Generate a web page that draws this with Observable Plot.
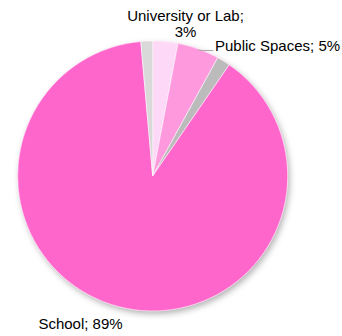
<!DOCTYPE html>
<html>
<head>
<meta charset="utf-8">
<script src="https://cdn.jsdelivr.net/npm/d3@7"></script>
<script src="https://cdn.jsdelivr.net/npm/@observablehq/plot@0.6"></script>
<style>
  html, body { margin: 0; padding: 0; background: #fff; }
  #chart svg { display: block; }
</style>
</head>
<body>
<div id="chart"></div>
<script>
// Data (clockwise from 12 o'clock)
const categories = ["University or Lab", "Public Spaces", "Other A", "School", "Other B"];
const values = [3, 5, 1.6, 89, 1.4];
const labels = ["University or Lab;\n3%", "Public Spaces; 5%", "", "School; 89%", ""];
const colors = ["#FDD8F7", "#FE99DE", "#BBBBBB", "#FF66CC", "#D9D9D9"];

const W = 342, H = 336;
const center = [152.7, 176];
const radius = 135;

const slices = categories.map((c, i) => ({category: c, value: values[i], label: labels[i], color: colors[i]}));
const pie = d3.pie().sort(null).value(d => d.value)(slices);

function pieMark(index, scales, values, dims, context) {
  const cx = scales.x(center[0]), cy = scales.y(center[1]);
  const r = Math.abs(scales.y(center[1] + radius) - cy);
  const g = d3.create("svg:g");
  const defs = g.append("defs");
  const f = defs.append("filter").attr("id", "pieShadow").attr("x", "-10%").attr("y", "-10%").attr("width", "130%").attr("height", "130%");
  f.append("feDropShadow").attr("dx", 2).attr("dy", 3).attr("stdDeviation", 3).attr("flood-color", "#000").attr("flood-opacity", 0.3);
  const arc = d3.arc().innerRadius(0).outerRadius(r);
  const inner = g.append("g").attr("transform", `translate(${cx},${cy})`);
  inner.append("circle").attr("r", r).attr("fill", "#FF66CC").attr("filter", "url(#pieShadow)");
  inner.selectAll("path").data(pie).join("path")
    .attr("d", arc)
    .attr("fill", d => d.data.color)
    .attr("stroke", "#fff")
    .attr("stroke-width", 0.6)
    .attr("stroke-linejoin", "round");
  // leader line for Public Spaces
  const ps = pie.find(d => d.data.category === "Public Spaces");
  const a = (ps.startAngle + ps.endAngle) / 2;
  const ex = Math.sin(a) * r, ey = -Math.cos(a) * r;
  inner.append("polyline")
    .attr("points", `${ex},${ey + 1} ${ex + 3},${ey + 1.5} ${ex + 15},${ey + 1.5}`)
    .attr("fill", "none").attr("stroke", "#A6A6A6").attr("stroke-width", 1);
  return g.node();
}

// label positions (layout)
const labelPos = {
  "University or Lab": {x: 185, y: 23.5, anchor: "middle"},
  "Public Spaces": {x: 214.5, y: 46, anchor: "start"},
  "School": {x: 80, y: 324, anchor: "middle"}
};
const labelData = pie.filter(d => d.data.label).map(d => ({
  x: labelPos[d.data.category].x,
  y: labelPos[d.data.category].y,
  text: d.data.label,
  anchor: labelPos[d.data.category].anchor
}));

const chart = Plot.plot({
  width: W,
  height: H,
  margin: 0,
  x: {domain: [0, W], range: [0, W], axis: null},
  y: {domain: [0, H], range: [0, H], axis: null},
  style: {fontFamily: "'Liberation Sans', Arial, sans-serif", background: "#fff"},
  marks: [
    pieMark,
    Plot.text(labelData.filter(d => d.anchor === "middle"), {
      x: "x", y: "y", text: "text", textAnchor: "middle",
      fontSize: 15, fill: "#000", lineHeight: 1.02
    }),
    Plot.text(labelData.filter(d => d.anchor === "start"), {
      x: "x", y: "y", text: "text", textAnchor: "start",
      fontSize: 15, fill: "#000"
    })
  ]
});
document.getElementById("chart").appendChild(chart);
</script>
</body>
</html>
